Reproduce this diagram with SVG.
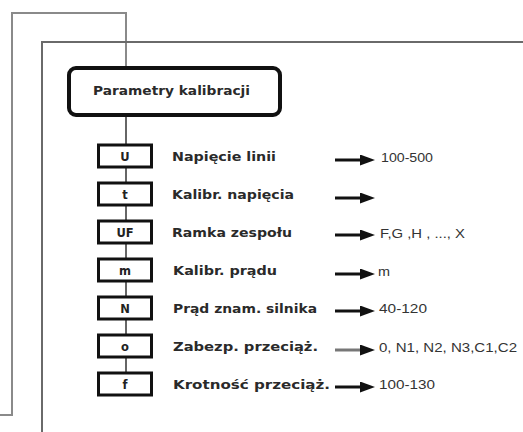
<svg xmlns="http://www.w3.org/2000/svg" width="523" height="432" viewBox="0 0 523 432">
<defs>
<style>
.frame{fill:none;stroke:#8a8a8a;stroke-width:2}
.frame2{fill:none;stroke:#6a6a6a;stroke-width:2}
.link{fill:none;stroke:#333;stroke-width:1.5}
.arrow{fill:none;stroke:#111;stroke-width:3;marker-end:url(#ah)}
.title{fill:#fff;stroke:#111;stroke-width:4}
.box{fill:#fff;stroke:#111;stroke-width:3}
.code{font-family:"DejaVu Sans",sans-serif;font-weight:bold;font-size:11.5px;fill:#222;text-anchor:middle}
.lbl{font-family:"DejaVu Sans",sans-serif;font-weight:bold;font-size:13px;fill:#2a2a2a}
.val{font-family:"Liberation Sans",Arial,sans-serif;font-size:12px;fill:#333}
</style>
<marker id="ah" markerUnits="userSpaceOnUse" markerWidth="15" markerHeight="11" refX="2" refY="5.5" orient="auto">
<path d="M0,0 L15,5.5 L0,11 Z" fill="#111"/>
</marker>
</defs>
<rect width="523" height="432" fill="#fff"/>
<g id="connectors">
<path class="frame" d="M0,415 H12 V13 H126 V68"/>
<path class="frame2" d="M42,432 V42 H523"/>
<path class="link" d="M126,115 V373"/>
<line class="arrow" x1="335" y1="160" x2="362" y2="160"/>
<line class="arrow" x1="335" y1="198" x2="362" y2="198"/>
<line class="arrow" x1="335" y1="235" x2="362" y2="235"/>
<line class="arrow" x1="335" y1="274" x2="362" y2="274"/>
<line class="arrow" x1="335" y1="311" x2="362" y2="311"/>
<line class="arrow" x1="335" y1="350" x2="362" y2="350" style="stroke:#777"/>
<line class="arrow" x1="335" y1="387" x2="362" y2="387"/>
</g>
<g id="title">
<rect class="title" x="69" y="68" width="211" height="47" rx="7"/>
<text class="lbl" x="93" y="95" textLength="157" lengthAdjust="spacingAndGlyphs">Parametry kalibracji</text>
</g>
<g id="node-U">
<rect class="box" x="98.5" y="145" width="53" height="22"/>
<text class="code" x="125" y="160.5">U</text>
<text class="lbl" x="172" y="161" textLength="104" lengthAdjust="spacingAndGlyphs">Napięcie linii</text>
<text class="val" x="381" y="162" textLength="52" lengthAdjust="spacingAndGlyphs">100-500</text>
</g>
<g id="node-t">
<rect class="box" x="98.5" y="183" width="53" height="22"/>
<text class="code" x="125" y="198.5">t</text>
<text class="lbl" x="172" y="199" textLength="122" lengthAdjust="spacingAndGlyphs">Kalibr. napięcia</text>
</g>
<g id="node-UF">
<rect class="box" x="98.5" y="221" width="53" height="22"/>
<text class="code" x="125" y="236.5">UF</text>
<text class="lbl" x="172" y="237" textLength="120" lengthAdjust="spacingAndGlyphs">Ramka zespołu</text>
<text class="val" x="380" y="238" textLength="85" lengthAdjust="spacingAndGlyphs">F,G ,H , ..., X</text>
</g>
<g id="node-m">
<rect class="box" x="98.5" y="259" width="53" height="22"/>
<text class="code" x="125" y="274.5">m</text>
<text class="lbl" x="173" y="275" textLength="104" lengthAdjust="spacingAndGlyphs">Kalibr. prądu</text>
<text class="val" x="378" y="276" textLength="12" lengthAdjust="spacingAndGlyphs">m</text>
</g>
<g id="node-N">
<rect class="box" x="98.5" y="297" width="53" height="22"/>
<text class="code" x="125" y="312.5">N</text>
<text class="lbl" x="173" y="313" textLength="144" lengthAdjust="spacingAndGlyphs">Prąd znam. silnika</text>
<text class="val" x="379" y="313" textLength="48" lengthAdjust="spacingAndGlyphs">40-120</text>
</g>
<g id="node-o">
<rect class="box" x="98.5" y="335" width="53" height="22"/>
<text class="code" x="125" y="350.5">o</text>
<text class="lbl" x="173" y="351" textLength="145" lengthAdjust="spacingAndGlyphs">Zabezp. przeciąż.</text>
<text class="val" x="379" y="352" textLength="138" lengthAdjust="spacingAndGlyphs">0, N1, N2, N3,C1,C2</text>
</g>
<g id="node-f">
<rect class="box" x="98.5" y="373" width="53" height="22"/>
<text class="code" x="125" y="388.5">f</text>
<text class="lbl" x="173" y="389" textLength="157" lengthAdjust="spacingAndGlyphs">Krotność przeciąż.</text>
<text class="val" x="379" y="389" textLength="56" lengthAdjust="spacingAndGlyphs">100-130</text>
</g>
</svg>
